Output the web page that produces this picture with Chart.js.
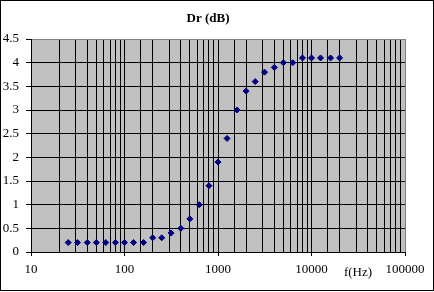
<!DOCTYPE html>
<html>
<head>
<meta charset="utf-8">
<script src="https://cdn.jsdelivr.net/npm/chart.js@4/dist/chart.umd.min.js"></script>
<style>
  html, body { margin: 0; padding: 0; background: #fff; }
  #wrap { position: relative; width: 434px; height: 292px; }
  #frame { position: absolute; left: 0; top: 0; width: 434px; height: 291px; box-sizing: border-box; border: 1px solid #000; pointer-events: none; }
</style>
</head>
<body>
<div id="wrap">
  <canvas id="chart" width="434" height="292"></canvas>
  <div id="frame"></div>
</div>
<script>
// third-octave band centres (Hz) and the read-off Dr values (dB)
const freqs = [25, 31.5, 40, 50, 63, 80, 100, 125, 160, 200, 250, 315, 400, 500, 630,
               800, 1000, 1250, 1600, 2000, 2500, 3150, 4000, 5000, 6300, 8000, 10000, 12500, 16000, 20000];
const drValues = [0.2, 0.2, 0.2, 0.2, 0.2, 0.2, 0.2, 0.2, 0.2, 0.3, 0.3, 0.4, 0.5, 0.7, 1.0,
                  1.4, 1.9, 2.4, 3.0, 3.4, 3.6, 3.8, 3.9, 4.0, 4.0, 4.1, 4.1, 4.1, 4.1, 4.1];
const chartTitle = 'Dr (dB)';
const xTitle = 'f(Hz)';
const xMin = 10, xMax = 100000;
const yMin = 0, yMax = 4.5, yStep = 0.5;

const serif = "'Liberation Serif', 'Times New Roman', serif";

function isDecade(v) {
    const l = Math.log10(v);
    return Math.abs(l - Math.round(l)) < 1e-9;
}

// grey plot area + texts placed like the original
const plotBack = {
    id: 'plotBack',
    beforeDraw(chart) {
        const {ctx, chartArea: a} = chart;
        ctx.save();
        ctx.fillStyle = '#c0c0c0';
        ctx.fillRect(a.left, a.top, a.right - a.left, a.bottom - a.top);
        ctx.restore();
    },
    afterDraw(chart) {
        const ctx = chart.ctx;
        ctx.save();
        ctx.fillStyle = '#000';
        ctx.textAlign = 'center';
        ctx.textBaseline = 'middle';
        ctx.font = 'bold 13px ' + serif;
        ctx.fillText(chartTitle, 208, 19);
        ctx.font = '13px ' + serif;
        ctx.fillText(xTitle, 358, 273);
        ctx.restore();
    }
};

const points = freqs.map((f, i) => ({x: f, y: drValues[i]}));

new Chart(document.getElementById('chart').getContext('2d'), {
    type: 'scatter',
    data: {
        datasets: [{
            label: chartTitle,
            data: points,
            pointStyle: 'rectRot',
            pointRadius: 3,
            pointBorderWidth: 1,
            backgroundColor: '#000080',
            borderColor: '#000080',
            showLine: false
        }]
    },
    options: {
        responsive: false,
        animation: false,
        layout: {
            padding: {left: 0, right: 29, top: 39, bottom: 0}
        },
        plugins: {
            legend: {display: false},
            tooltip: {enabled: false},
            title: {display: false}
        },
        scales: {
            x: {
                type: 'logarithmic',
                min: xMin,
                max: xMax,
                afterFit: s => { s.height = 40; },
                border: {display: true, color: '#000', width: 1},
                grid: {
                    color: c => (c.tick && c.tick.value === xMax) ? '#808080' : '#000',
                    lineWidth: 1,
                    drawTicks: true,
                    tickLength: 4,
                    tickColor: c => (c.tick && isDecade(c.tick.value)) ? '#000' : 'rgba(0,0,0,0)'
                },
                ticks: {
                    autoSkip: false,
                    maxRotation: 0,
                    padding: 6,
                    color: '#000',
                    font: {family: serif, size: 13},
                    callback: v => isDecade(v) ? String(v) : ''
                }
            },
            y: {
                min: yMin,
                max: yMax,
                afterFit: s => { s.width = 31; },
                border: {display: true, color: '#000', width: 1},
                grid: {
                    color: c => (c.tick && c.tick.value === yMax) ? '#808080' : '#000',
                    lineWidth: 1,
                    drawTicks: true,
                    tickLength: 5,
                    tickColor: '#000'
                },
                ticks: {
                    stepSize: yStep,
                    padding: 7,
                    color: '#000',
                    font: {family: serif, size: 13},
                    callback: v => String(v)
                }
            }
        }
    },
    plugins: [plotBack]
});
</script>
</body>
</html>
